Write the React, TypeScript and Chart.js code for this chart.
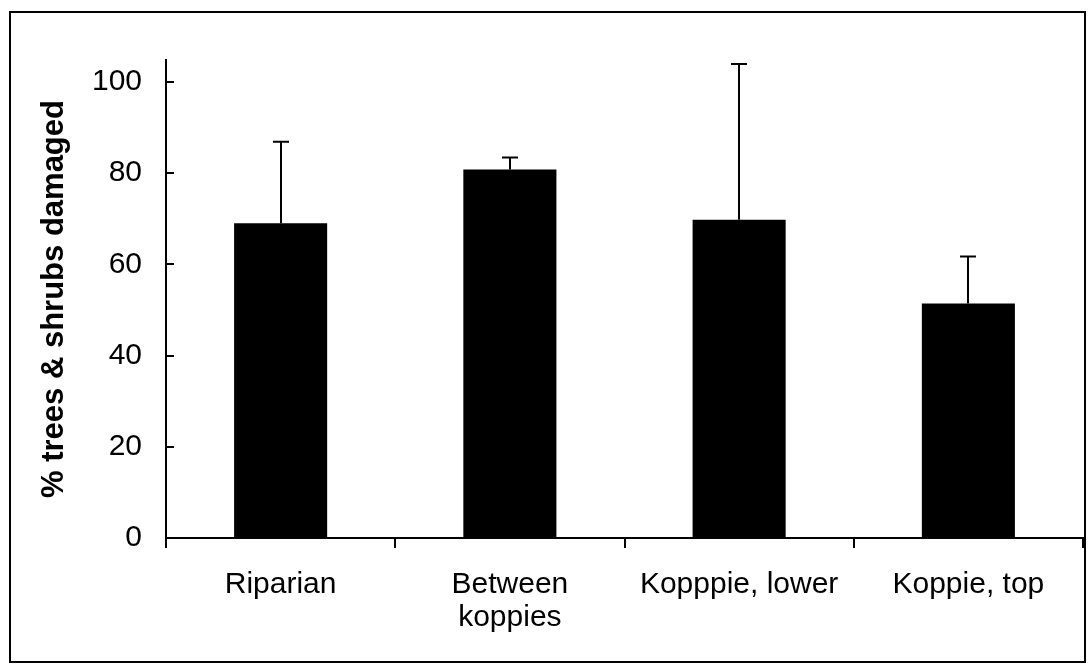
import React, { useEffect, useRef } from "react";
import { Chart, registerables } from "chart.js";

Chart.register(...registerables);

const categories: (string | string[])[] = ["Riparian", ["Between", "koppies"], "Kopppie, lower", "Koppie, top"];
const values: number[] = [69.0, 80.8, 69.8, 51.4];
const errors: number[] = [17.9, 2.6, 34.1, 10.3];
const yTicks: number[] = [0, 20, 40, 60, 80, 100];
const yTitle = "% trees & shrubs damaged";

const FONT = "'Liberation Sans', Arial, sans-serif";

const extrasPlugin = {
  id: "extras",
  afterDatasetsDraw(chart: any) {
    const ctx = chart.ctx;
    const y = chart.scales.y;
    const meta = chart.getDatasetMeta(0);
    ctx.save();
    ctx.strokeStyle = "#000";
    ctx.lineWidth = 2;
    meta.data.forEach((bar: any, i: number) => {
      const top = y.getPixelForValue(values[i] + errors[i]);
      const x = Math.round(bar.x);
      ctx.beginPath();
      ctx.moveTo(x, bar.y);
      ctx.lineTo(x, top);
      ctx.moveTo(x - 8, top);
      ctx.lineTo(x + 8, top);
      ctx.stroke();
    });
    // inward y ticks
    const left = chart.chartArea.left;
    yTicks.forEach((v) => {
      const py = Math.round(y.getPixelForValue(v));
      ctx.beginPath();
      ctx.moveTo(left, py);
      ctx.lineTo(left + 8, py);
      ctx.stroke();
    });
    ctx.restore();
  },
  afterDraw(chart: any) {
    const ctx = chart.ctx;
    ctx.save();
    ctx.strokeStyle = "#000";
    ctx.lineWidth = 2;
    ctx.strokeRect(10, 12, 1075, 650);
    ctx.restore();
  },
};

export default function App() {
  const ref = useRef<HTMLCanvasElement | null>(null);
  useEffect(() => {
    if (!ref.current) return;
    const chart = new Chart(ref.current, {
      type: "bar",
      data: {
        labels: categories,
        datasets: [
          {
            data: values,
            backgroundColor: "#000",
            borderWidth: 0,
            barPercentage: 0.406,
            categoryPercentage: 1,
          },
        ],
      },
      options: {
        responsive: false,
        animation: false,
        devicePixelRatio: 1,
        layout: { padding: { top: 60, right: 5, left: 0, bottom: 0 } },
        plugins: { legend: { display: false }, tooltip: { enabled: false } },
        scales: {
          x: {
            grid: {
              display: true,
              drawOnChartArea: false,
              drawTicks: true,
              tickLength: 10,
              offset: true,
              color: "#000",
              lineWidth: 2,
            },
            border: { display: true, color: "#000", width: 2 },
            ticks: {
              color: "#000",
              font: { family: FONT, size: 30, lineHeight: 1.1 },
              padding: 20,
              maxRotation: 0,
              autoSkip: false,
            },
            afterFit(scale: any) {
              scale.height = 128;
            },
          },
          y: {
            min: 0,
            max: 104.8,
            grid: { display: false, drawTicks: false },
            border: { display: true, color: "#000", width: 2 },
            ticks: {
              color: "#000",
              font: { family: FONT, size: 30 },
              padding: 24,
              stepSize: 20,
            },
            afterBuildTicks(scale: any) {
              scale.ticks = yTicks.map((v) => ({ value: v }));
            },
            title: {
              display: true,
              text: yTitle,
              color: "#000",
              font: { family: FONT, size: 31, weight: "bold" },
              padding: { top: 36, bottom: 0 },
            },
            afterFit(scale: any) {
              scale.width = 166;
            },
          },
        },
      },
      plugins: [extrasPlugin],
    });
    return () => chart.destroy();
  }, []);
  return (
    <div style={{ position: "absolute", left: 0, top: 0, width: 1088, height: 666, background: "#fff" }}>
      <canvas ref={ref} width={1088} height={666} style={{ display: "block" }} />
    </div>
  );
}
